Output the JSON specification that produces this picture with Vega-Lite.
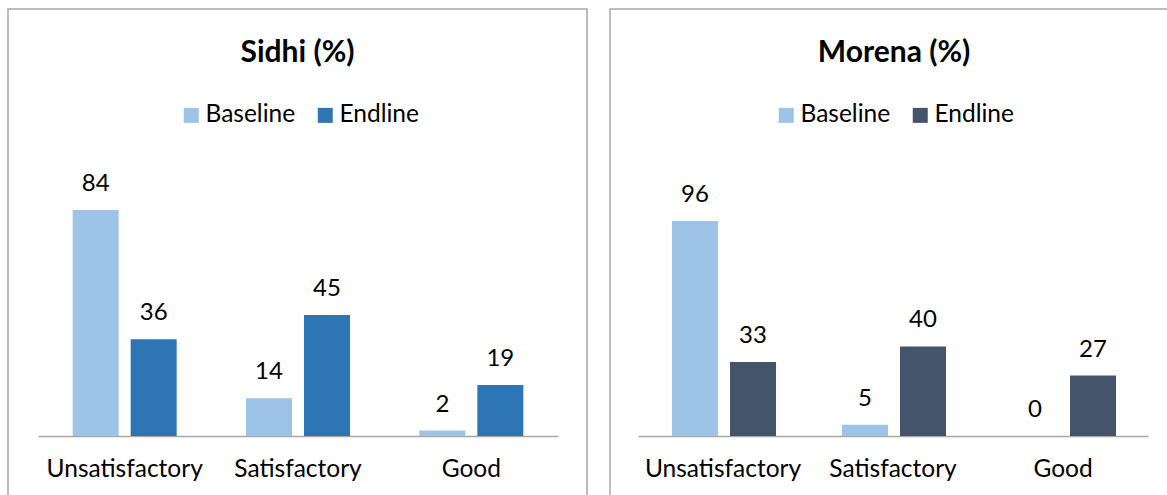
{
  "$schema": "https://vega.github.io/schema/vega-lite/v6.json",
  "padding": {"left": 7, "top": 8, "right": 0, "bottom": 0},
  "background": "white",
  "datasets": {
    "sidhi": [
      {"rating": "Unsatisfactory", "round": "Baseline", "pct": 84},
      {"rating": "Unsatisfactory", "round": "Endline", "pct": 36},
      {"rating": "Satisfactory", "round": "Baseline", "pct": 14},
      {"rating": "Satisfactory", "round": "Endline", "pct": 45},
      {"rating": "Good", "round": "Baseline", "pct": 2},
      {"rating": "Good", "round": "Endline", "pct": 19}
    ],
    "morena": [
      {"rating": "Unsatisfactory", "round": "Baseline", "pct": 96},
      {"rating": "Unsatisfactory", "round": "Endline", "pct": 33},
      {"rating": "Satisfactory", "round": "Baseline", "pct": 5},
      {"rating": "Satisfactory", "round": "Endline", "pct": 40},
      {"rating": "Good", "round": "Baseline", "pct": 0},
      {"rating": "Good", "round": "Endline", "pct": 27}
    ]
  },
  "config": {
    "font": "Lato",
    "view": {"stroke": "#a6a6a6", "strokeWidth": 1.5},
    "concat": {"spacing": 21},
    "title": {"font": "Lato", "fontWeight": "bold", "fontSize": 30, "color": "#000000"},
    "axis": {"labelFont": "Lato"},
    "legend": {"labelFont": "Lato"}
  },
  "hconcat": [
    {
      "width": 579,
      "height": 490,
      "data": {"name": "sidhi"},
      "title": {"text": "Sidhi (%)", "anchor": "middle", "frame": "group", "orient": "top", "offset": -83, "baseline": "alphabetic"},
      "encoding": {
        "x": {
          "field": "rating", "type": "nominal", "sort": ["Unsatisfactory", "Satisfactory", "Good"],
          "scale": {"range": [30, 550], "paddingInner": 0.4, "paddingOuter": 0.2},
          "axis": {"title": null, "labelAngle": 0, "labelFontSize": 24.5, "labelColor": "#000000", "ticks": false, "tickSize": 0, "labelPadding": 40, "labelBaseline": "alphabetic", "domainColor": "#a6a6a6", "domainWidth": 1.5, "offset": -63}
        },
        "xOffset": {"field": "round", "type": "nominal", "sort": ["Baseline", "Endline"], "scale": {"paddingInner": 0.207, "paddingOuter": 0}},
        "y": {"field": "pct", "type": "quantitative", "scale": {"domain": [0, 158.7], "range": [427, 0], "nice": false, "zero": true}, "axis": null}
      },
      "layer": [
        {
          "mark": {"type": "bar"},
          "encoding": {
            "color": {
              "field": "round", "type": "nominal",
              "scale": {"domain": ["Baseline", "Endline"], "range": ["#9dc3e6", "#2e75b6"]},
              "legend": {"title": null, "orient": "none", "direction": "horizontal", "legendX": 171, "legendY": 94, "symbolType": "square", "symbolSize": 225, "symbolStrokeWidth": 0, "labelFontSize": 24.5, "labelColor": "#000000", "columnPadding": 17, "labelOffset": 2}
            }
          }
        },
        {
          "mark": {"type": "text", "fontSize": 24, "dy": -19, "baseline": "alphabetic", "color": "#000000"},
          "encoding": {"text": {"field": "pct", "type": "quantitative"}}
        }
      ]
    },
    {
      "width": 568,
      "height": 492,
      "data": {"name": "morena"},
      "title": {"text": "Morena (%)", "anchor": "middle", "frame": "group", "orient": "top", "offset": -83, "baseline": "alphabetic"},
      "encoding": {
        "x": {
          "field": "rating", "type": "nominal", "sort": ["Unsatisfactory", "Satisfactory", "Good"],
          "scale": {"range": [28, 538], "paddingInner": 0.4, "paddingOuter": 0.2},
          "axis": {"title": null, "labelAngle": 0, "labelFontSize": 24.5, "labelColor": "#000000", "ticks": false, "tickSize": 0, "labelPadding": 40, "labelBaseline": "alphabetic", "domainColor": "#a6a6a6", "domainWidth": 1.5, "offset": -65}
        },
        "xOffset": {"field": "round", "type": "nominal", "sort": ["Baseline", "Endline"], "scale": {"paddingInner": 0.207, "paddingOuter": 0}},
        "y": {"field": "pct", "type": "quantitative", "scale": {"domain": [0, 190.6], "range": [427, 0], "nice": false, "zero": true}, "axis": null}
      },
      "layer": [
        {
          "mark": {"type": "bar"},
          "encoding": {
            "color": {
              "field": "round", "type": "nominal",
              "scale": {"domain": ["Baseline", "Endline"], "range": ["#9dc3e6", "#44546a"]},
              "legend": {"title": null, "orient": "none", "direction": "horizontal", "legendX": 164, "legendY": 94, "symbolType": "square", "symbolSize": 225, "symbolStrokeWidth": 0, "labelFontSize": 24.5, "labelColor": "#000000", "columnPadding": 17, "labelOffset": 2}
            }
          }
        },
        {
          "mark": {"type": "text", "fontSize": 24, "dy": -19, "baseline": "alphabetic", "color": "#000000"},
          "encoding": {"text": {"field": "pct", "type": "quantitative"}}
        }
      ]
    }
  ],
  "resolve": {"scale": {"color": "independent"}, "legend": {"color": "independent"}}
}
